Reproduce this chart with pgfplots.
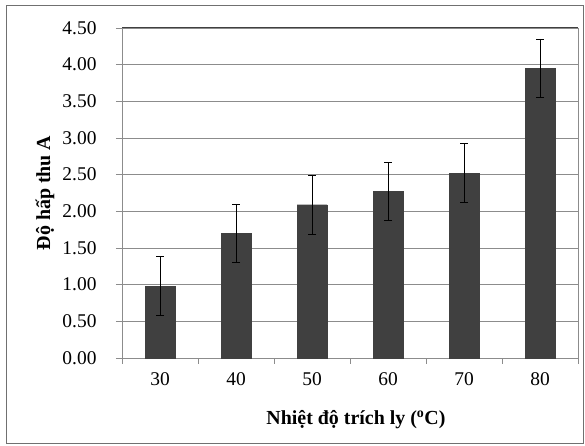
\documentclass[border=0pt]{standalone}
\usepackage{pgfplots}
\pgfplotsset{compat=1.18}
\usepackage{pgfplotstable}
\usepackage{fontspec}
\setmainfont{Liberation Serif}
\definecolor{barc}{HTML}{404040}
\definecolor{gridc}{HTML}{8C8C8C}
\pgfplotstableread{
x y e
0 0.98 0.40
1 1.70 0.40
2 2.09 0.40
3 2.27 0.40
4 2.52 0.40
5 3.95 0.40
}\datatable
\newcommand\bigf{\fontsize{19.5}{22}\selectfont}
\newcommand\labf{\fontsize{20}{23}\selectfont\bfseries}
\begin{document}
\begin{tikzpicture}[x=1bp,y=1bp,font=\bigf]
\path (-122,-88) rectangle (463,358);
\draw[gridc!80!black, line width=1bp] (-115,-86) rectangle (461,352);
\begin{axis}[
  at={(0,0)}, anchor=south west,
  scale only axis, width=456bp, height=330bp,
  xmin=-0.5, xmax=5.5, ymin=0, ymax=4.5,
  ytick={0,0.5,...,4.5},
  xtick={0,...,5}, xticklabels={30,40,50,60,70,80},
  minor xtick={-0.5,0.5,...,5.5},
  major x tick style={draw=none},
  minor x tick style={gridc, line width=0.8bp},
  minor tick length=6bp,
  major tick length=6bp,
  tick align=outside,
  ytick style={gridc, line width=0.8bp},
  ymajorgrids, grid style={gridc, line width=0.8bp},
  axis x line*=bottom, axis y line*=left,
  x axis line style={gridc, line width=0.8bp, -},
  y axis line style={gridc, line width=0.8bp, -},
  tick label style={font=\bigf},
  label style={font=\labf},
  /pgf/number format/.cd, fixed, fixed zerofill, precision=2, assume math mode=true,
  /pgfplots/.cd,
  yticklabel style={at={(axis cs:-0.5,\tick)}, anchor=east, xshift=-16bp},
  xticklabel style={yshift=-5bp},
  ylabel={Độ hấp thu A},
  ylabel style={at={(axis description cs:-0.169,0.5)}, anchor=center, rotate=0},
  xlabel={Nhiệt độ trích ly (\textsuperscript{o}C)},
  xlabel style={at={(axis description cs:0.513,-0.188)}, anchor=center},
  clip=false,
]
\addplot[ybar, bar width=30bp, fill=barc, draw=barc,
  error bars/.cd, y dir=both, y explicit,
  error bar style={black, line width=0.8bp},
  error mark options={rotate=90, mark size=4bp, black, line width=0.8bp}]
  table[x=x, y=y, y error=e] {\datatable};
\draw[black!75, line width=1bp] (rel axis cs:0,1) -- (rel axis cs:1,1);
\draw[gridc, line width=0.8bp] (rel axis cs:1,0) -- (rel axis cs:1,1);
\end{axis}
\end{tikzpicture}
\end{document}
